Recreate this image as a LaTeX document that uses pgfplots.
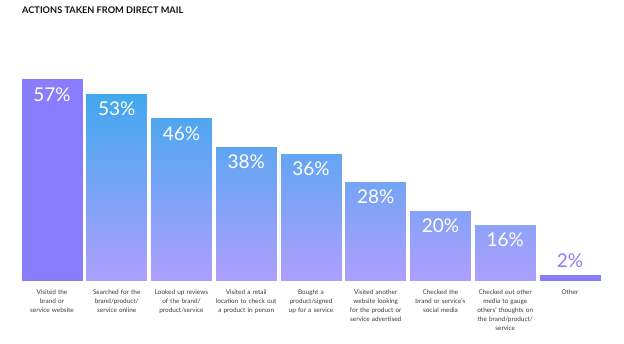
\documentclass[border=0pt]{standalone}
\usepackage{pgfplots}
\pgfplotsset{compat=1.18}
\usepackage{fontspec}
\setmainfont{Lato}
\definecolor{solidpurple}{HTML}{8A7DFD}
\definecolor{gradtop}{HTML}{40A8EE}
\definecolor{gradmid}{HTML}{929BF6}
\definecolor{gradbot}{HTML}{AE9FFD}
\definecolor{labelgray}{HTML}{3A3A3A}
\begin{document}
\begin{tikzpicture}
\useasboundingbox (0pt,0pt) rectangle (624pt,343pt);
\node[anchor=base west,inner sep=0pt,font=\bfseries\fontsize{9.2}{11}\selectfont,text=black!92] at (22pt,329.5pt) {ACTIONS TAKEN FROM DIRECT MAIL};
\begin{axis}[
  at={(19.6pt,62pt)}, anchor=south west,
  scale only axis, width=582.75pt, height=213pt,
  xmin=-0.5, xmax=8.5, ymin=0, ymax=60,
  axis line style={draw=none}, tick style={draw=none},
  ytick=\empty,
  xtick={0,...,8},
  xticklabels={{Visited the\\brand or\\service website},
    {Searched for the\\brand/product/\\service online},
    {Looked up reviews\\of the brand/\\product/service},
    {Visited a retail\\location to check out\\a product in person},
    {Bought a\\product/signed\\up for a service},
    {Visited another\\website looking\\for the product or\\service advertised},
    {Checked the\\brand or service's\\social media},
    {Checked out other\\media to gauge\\others' thoughts on\\the brand/product/\\service},
    {Other}},
  xticklabel style={text width=64pt, align=center, text=labelgray,
    font=\fontsize{6.4}{9}\selectfont, yshift=-1pt},
  ybar, bar width=62pt,
  /pgf/number format/assume math mode=true,
  clip=false,
]
\addplot[bar shift=0pt, draw=white, line width=0.6pt, fill=solidpurple,
  nodes near coords={\pgfmathprintnumber{\pgfplotspointmeta}\%},
  every node near coord/.style={anchor=north, yshift=-5pt, text=white,
    font=\fontsize{19}{21}\selectfont}]
  coordinates {(0,57)};
\addplot[bar shift=0pt, draw=white, line width=0.6pt, top color=gradtop, middle color=gradmid, bottom color=gradbot,
  nodes near coords={\pgfmathprintnumber{\pgfplotspointmeta}\%},
  every node near coord/.style={anchor=north, yshift=-5pt, text=white,
    font=\fontsize{19}{21}\selectfont}]
  coordinates {(1,53) (2,46) (3,38) (4,36) (5,28) (6,20) (7,16)};
\addplot[bar shift=0pt, draw=white, line width=0.6pt, fill=solidpurple,
  nodes near coords={\pgfmathprintnumber{\pgfplotspointmeta}\%},
  every node near coord/.style={anchor=south, yshift=3pt, text=solidpurple,
    font=\fontsize{19}{21}\selectfont}]
  coordinates {(8,2)};
\end{axis}
\end{tikzpicture}
\end{document}
